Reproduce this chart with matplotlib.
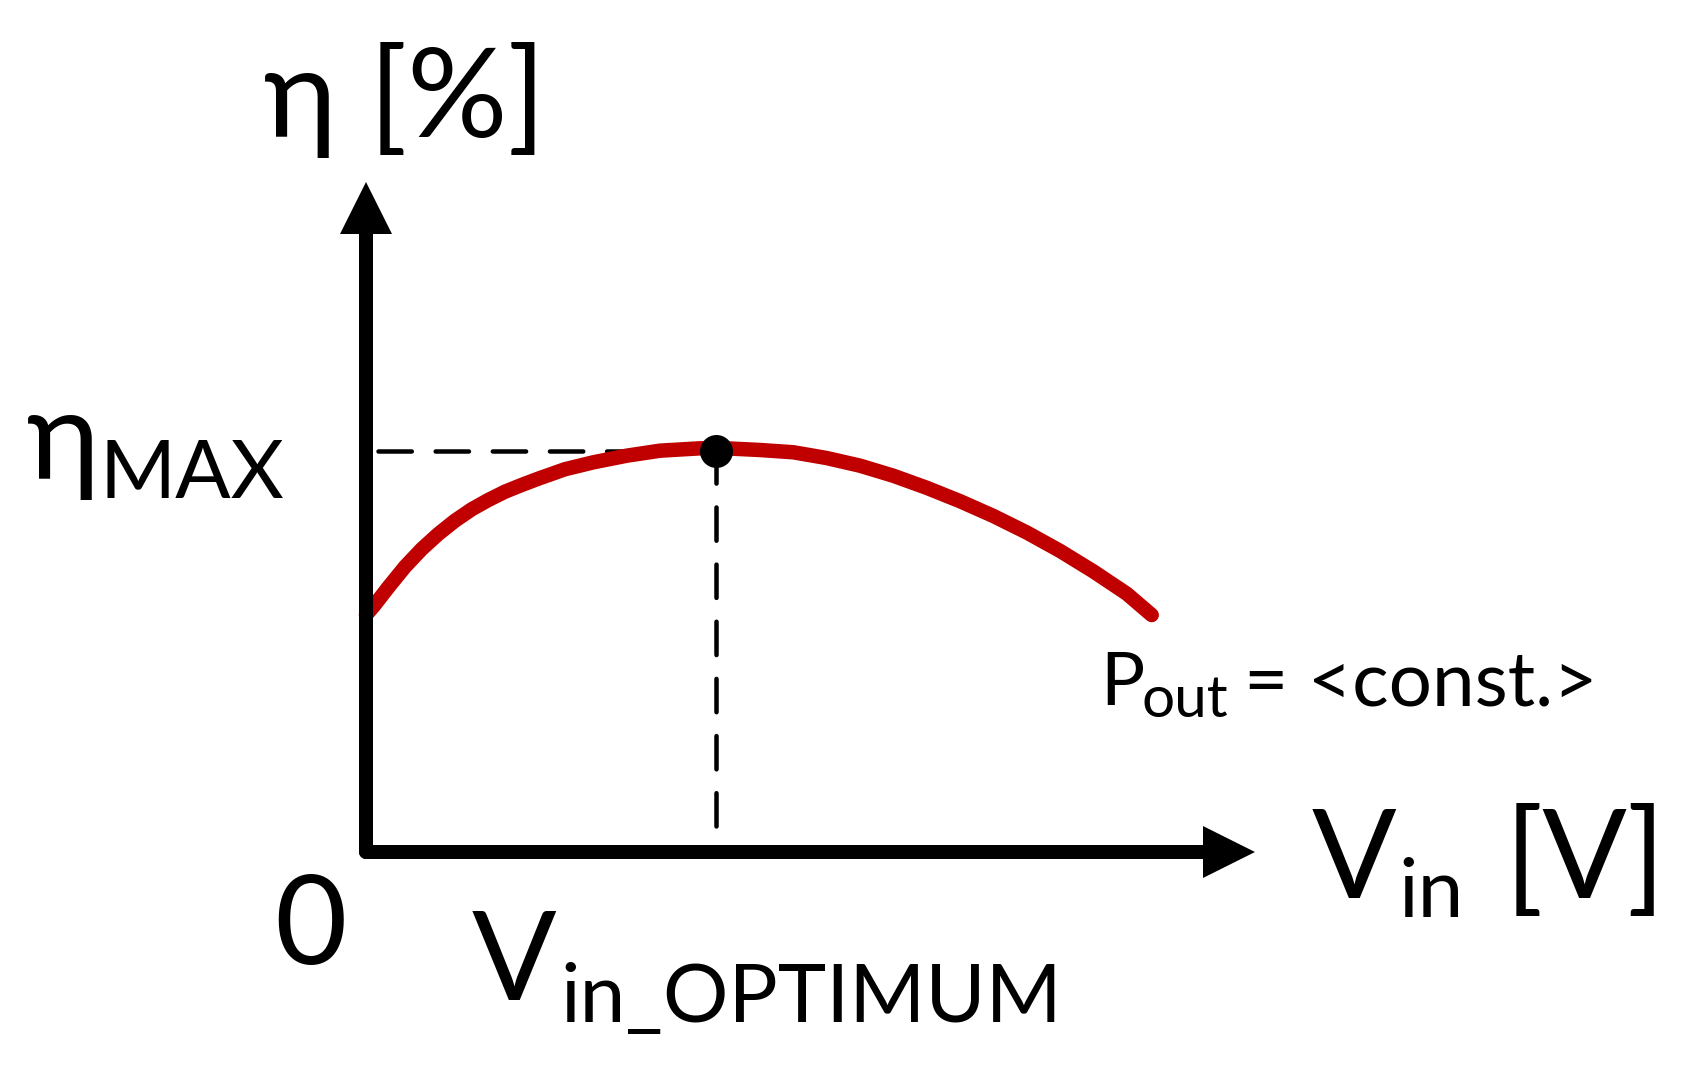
import matplotlib
matplotlib.use("Agg")
import matplotlib.pyplot as plt
from matplotlib.patches import Polygon

# ---- data (normalised axis units: 0..1 along each axis arrow) ----
v_in = [0.0000, 0.0090, 0.0251, 0.0439, 0.0627, 0.0813, 0.1001, 0.1189,
        0.1376, 0.1564, 0.1751, 0.1938, 0.2238, 0.2557, 0.2932, 0.3307,
        0.3757, 0.4094, 0.4432, 0.4807, 0.5182, 0.5557, 0.5931, 0.6307,
        0.6682, 0.7056, 0.7432, 0.7807, 0.8181, 0.8557, 0.8838]
eta = [0.3537, 0.3676, 0.3951, 0.4258, 0.4522, 0.4746, 0.4945, 0.5115,
       0.5254, 0.5378, 0.5478, 0.5572, 0.5713, 0.5816, 0.5915, 0.5990,
       0.6025, 0.6022, 0.6000, 0.5966, 0.5880, 0.5766, 0.5616, 0.5436,
       0.5236, 0.5016, 0.4769, 0.4494, 0.4189, 0.3856, 0.3537]
v_opt = 0.394
eta_max = 0.5985
dash_h_start = 0.0135
dash_v_start = 0.039

W, H = 1683, 1077
FONT = ['Lato', 'Open Sans', 'DejaVu Sans']
plt.rcParams['font.family'] = FONT

fig = plt.figure(figsize=(W / 100, H / 100), dpi=100)
fig.patch.set_facecolor('white')

# axes whose data (0,0) is the origin of the drawn axes and (1,1) the arrow tips
ox, oy = 366, 852
tipx, tipy = 1255, 182
ax = fig.add_axes([ox / W, 1 - oy / H, (tipx - ox) / W, (oy - tipy) / H])
ax.set_xlim(0, 1)
ax.set_ylim(0, 1)
ax.axis('off')

px = 72 / 100  # points per pixel

# axis lines
head_len, head_hw = 52, 26
ax.plot([0, 0], [0, 1 - head_len / (oy - tipy) + 0.002], color='black',
        lw=14 * px, solid_capstyle='round', clip_on=False, zorder=3)
ax.plot([0, 1 - head_len / (tipx - ox) + 0.002], [0, 0], color='black',
        lw=14 * px, solid_capstyle='round', clip_on=False, zorder=3)

# arrow heads (built in display pixels from the axis tips)
tr = ax.transData
fig.canvas.draw()
tx, ty = tr.transform((0, 1))
fig.patches.append(Polygon([[tx, ty], [tx - head_hw, ty - head_len], [tx + head_hw, ty - head_len]],
                           closed=True, transform=None, facecolor='black', edgecolor='none',
                           figure=fig))
tx, ty = tr.transform((1, 0))
fig.patches.append(Polygon([[tx, ty], [tx - head_len, ty - head_hw], [tx - head_len, ty + head_hw]],
                           closed=True, transform=None, facecolor='black', edgecolor='none',
                           figure=fig))

# dashed guides
dlw = 4.5 * px
ax.plot([dash_h_start, v_opt], [eta_max, eta_max], color='black', lw=dlw,
        dashes=(7.4, 5.3), dash_capstyle='round', clip_on=False, zorder=2)
ax.plot([v_opt, v_opt], [dash_v_start, eta_max], color='black', lw=dlw,
        dashes=(7.4, 5.3), dash_capstyle='round', clip_on=False, zorder=2)

# efficiency curve
ax.plot(v_in, eta, color='#C00000', lw=14.5 * px, solid_capstyle='round',
        solid_joinstyle='round', clip_on=False, zorder=2)

# optimum point
ax.plot([v_opt], [eta_max], 'o', color='black', markersize=33 * px,
        markeredgewidth=0, clip_on=False, zorder=4)

# ---- texts ----
MAIN = 90
SUB = 59


def put(s, x, y, size):
    fig.text(x / W, 1 - y / H, s, fontsize=size, ha='left', va='baseline',
             family=FONT, color='black')


put('η [%]', 264, 137, MAIN)
put('η', 27, 479, MAIN)
put('MAX', 100, 498, SUB)
put('0', 274, 964, MAIN)
put('V', 472, 1000, MAIN)
put('in_OPTIMUM', 560, 1022, SUB)
put('V', 1312, 898, MAIN)
put('in', 1398, 917, SUB)
put('[V]', 1505, 898, MAIN)
put('P', 1100, 705, 53)
put('out', 1142, 717, 42)
put('= <const.>', 1244, 705, 55)

fig.savefig('out.png', dpi=100, facecolor='white')
